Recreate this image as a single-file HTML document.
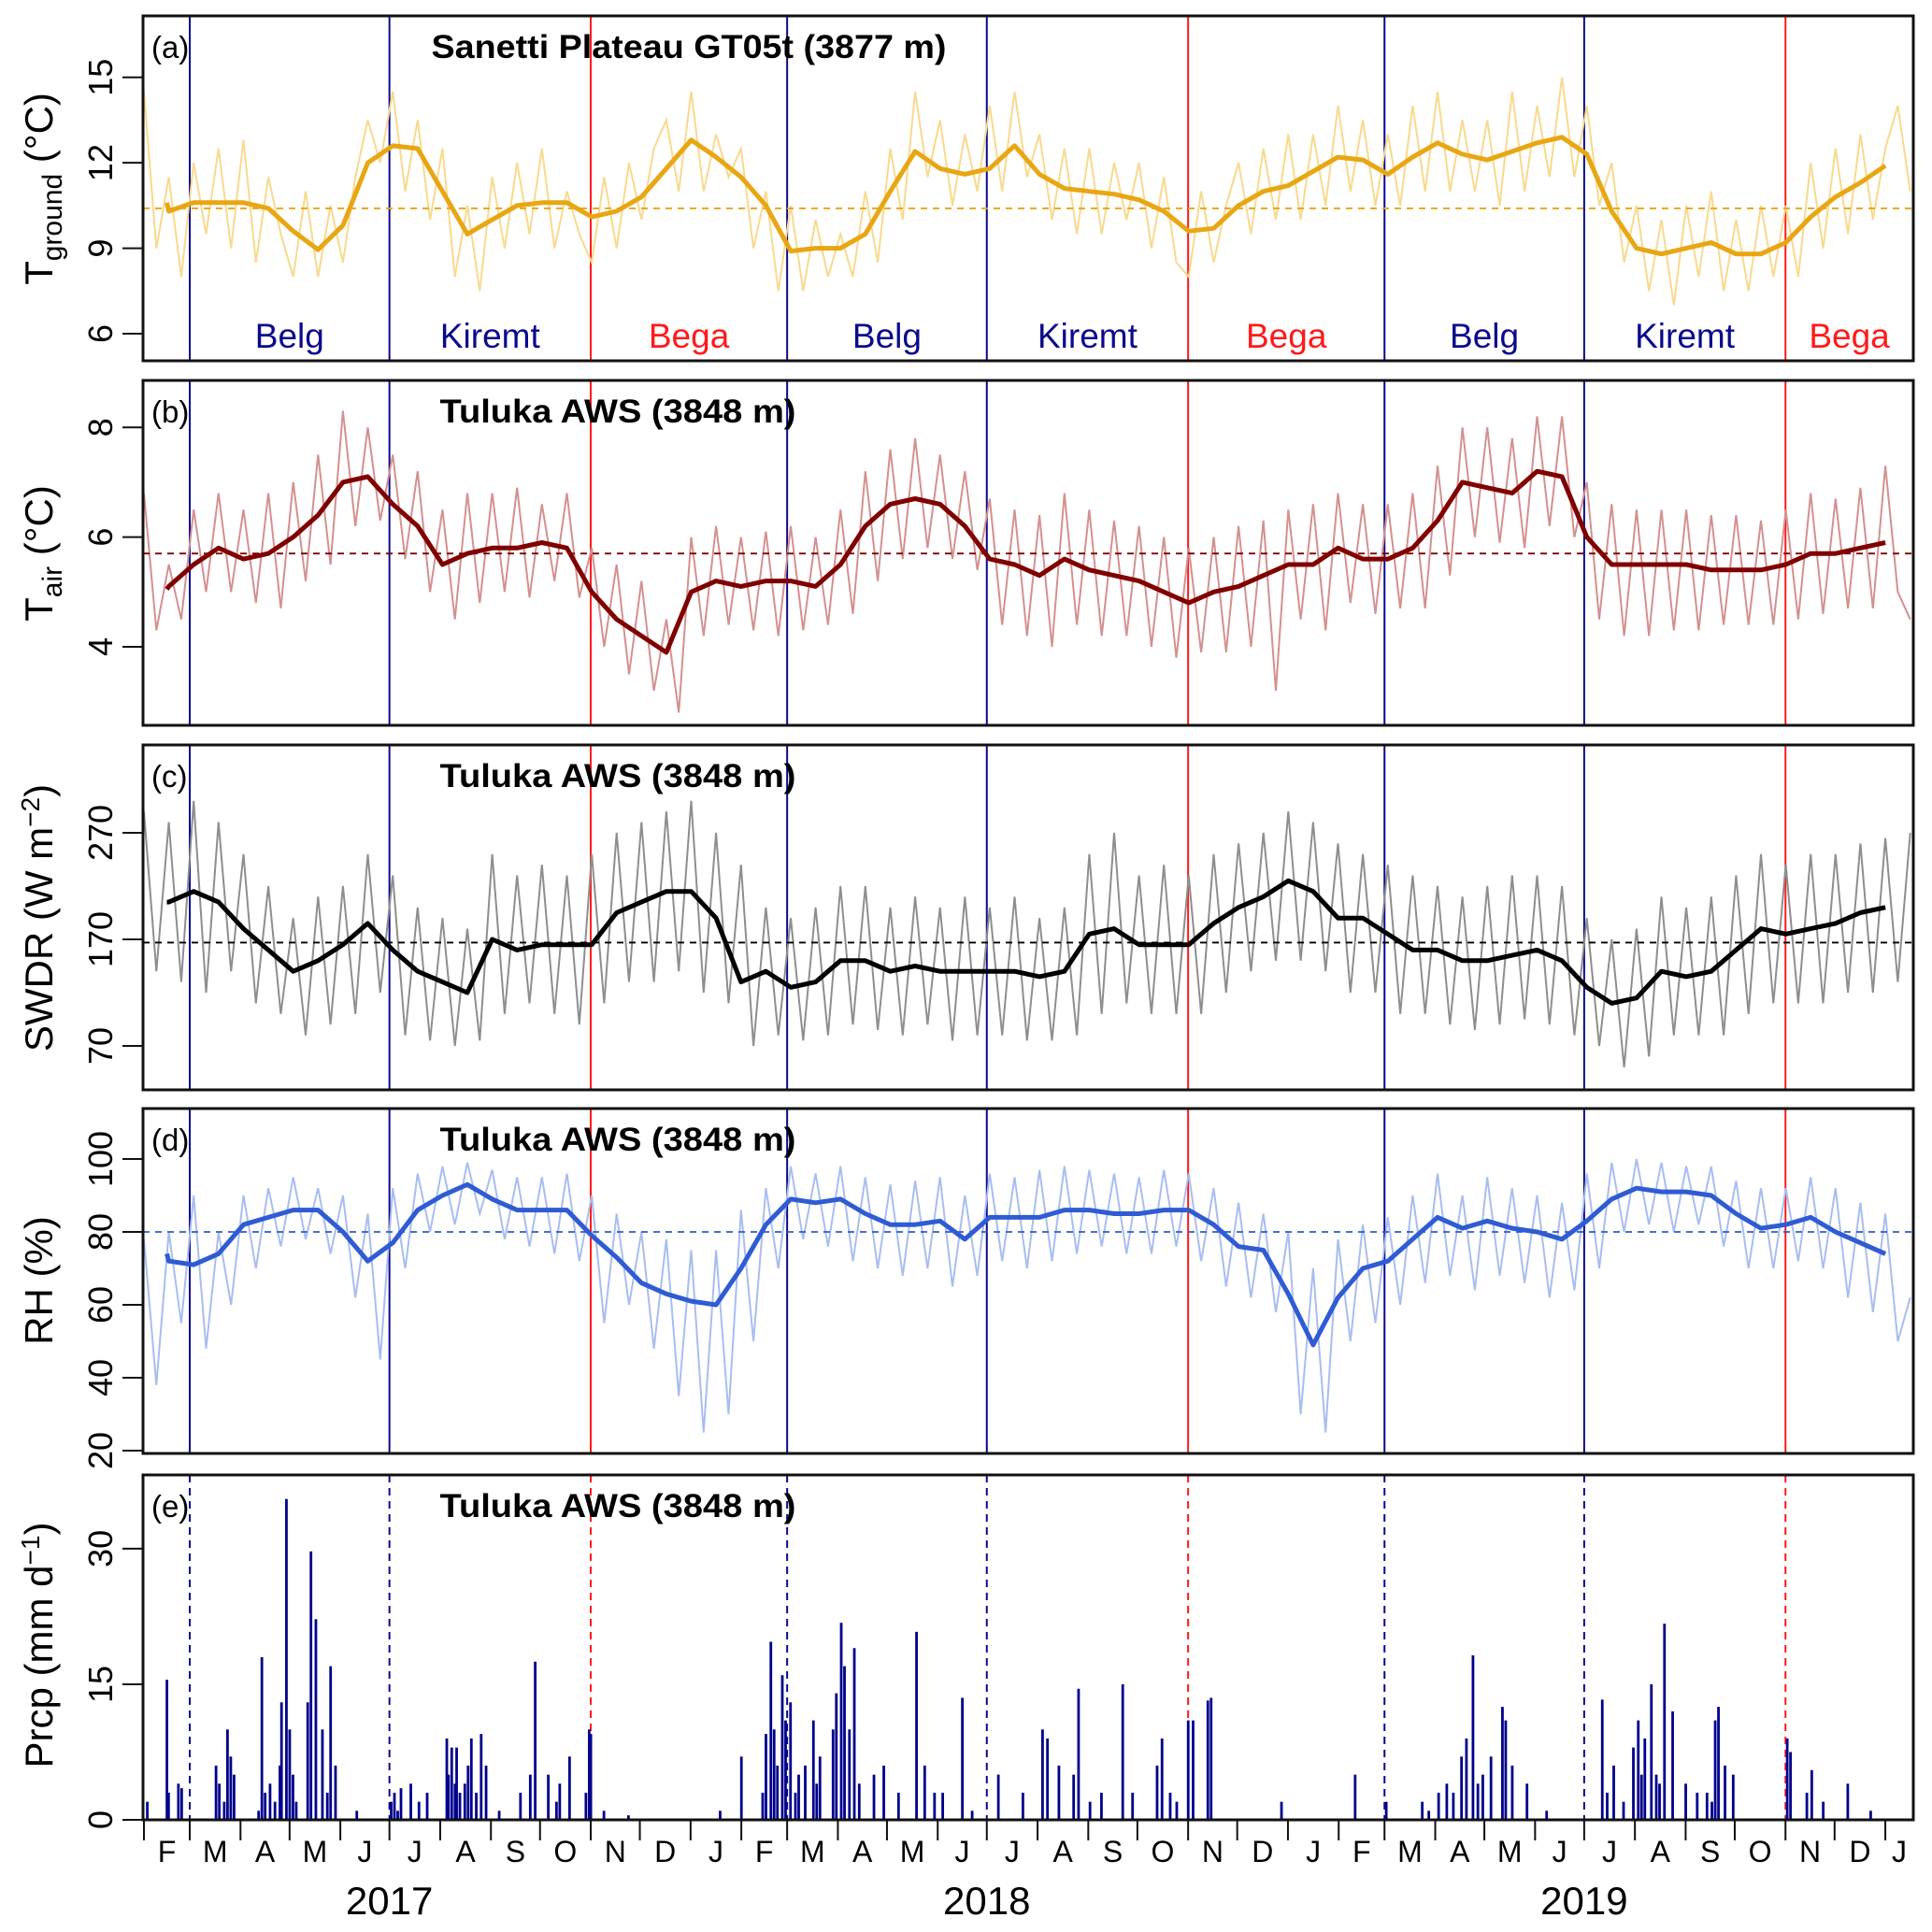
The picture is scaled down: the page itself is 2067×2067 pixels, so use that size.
<!DOCTYPE html>
<html><head><meta charset="utf-8"><style>
html,body{margin:0;padding:0;background:#fff}
svg{display:block;font-family:"Liberation Sans",Arial,sans-serif}
</style></head><body>
<svg id="chart" width="2067" height="2067" viewBox="0 0 2067 2067" xmlns="http://www.w3.org/2000/svg"></svg>
<script>
// ---------- DATA ----------
// smoothed series: semi-monthly samples from 1 Feb 2017 (step 15.2 days)
const tgSmooth=[10.6,10.3,10.6,10.6,10.6,10.4,9.6,8.95,9.8,12.0,12.6,12.5,11.0,9.5,10.0,10.5,10.6,10.6,10.1,10.3,10.8,11.8,12.8,12.2,11.5,10.5,8.9,9.0,9.0,9.5,11.0,12.4,11.8,11.6,11.8,12.6,11.6,11.1,11.0,10.9,10.7,10.3,9.6,9.7,10.5,11.0,11.2,11.7,12.2,12.1,11.6,12.2,12.7,12.3,12.1,12.4,12.7,12.9,12.3,10.3,9.0,8.8,9.0,9.2,8.8,8.8,9.2,10.1,10.8,11.3,11.9];
const taSmooth=[5.05,5.1,5.5,5.8,5.6,5.7,6.0,6.4,7.0,7.1,6.6,6.2,5.5,5.7,5.8,5.8,5.9,5.8,5.0,4.5,4.2,3.9,5.0,5.2,5.1,5.2,5.2,5.1,5.5,6.2,6.6,6.7,6.6,6.2,5.6,5.5,5.3,5.6,5.4,5.3,5.2,5.0,4.8,5.0,5.1,5.3,5.5,5.5,5.8,5.6,5.6,5.8,6.3,7.0,6.9,6.8,7.2,7.1,6.0,5.5,5.5,5.5,5.5,5.4,5.4,5.4,5.5,5.7,5.7,5.8,5.9];
const swSmooth=[205,205,215,205,180,160,140,150,165,185,160,140,130,120,170,160,165,165,165,195,205,215,215,190,130,140,125,130,150,150,140,145,140,140,140,140,135,140,175,180,165,165,165,185,200,210,225,215,190,190,175,160,160,150,150,155,160,150,125,110,115,140,135,140,160,180,175,180,185,195,200];
const rhSmooth=[74,72,71,74,82,84,86,86,80,72,77,86,90,93,89,86,86,86,79,73,66,63,61,60,70,82,89,88,89,85,82,82,83,78,84,84,84,86,86,85,85,86,86,82,76,75,63,49,62,70,72,78,84,81,83,81,80,78,83,89,92,91,91,90,85,81,82,84,80,77,74];
// raw series: samples every 7.6 days from 1 Feb 2017
const tgRaw=[14.5,9.0,11.5,8.0,12.0,9.5,12.5,9.0,12.8,8.5,11.5,9.5,8.0,11.0,8.0,10.5,8.5,11.5,13.5,12.0,14.5,11.0,13.5,10.0,12.5,8.0,10.5,7.5,11.5,9.0,12.0,9.5,12.5,9.0,11.0,9.5,8.5,11.5,9.0,12.0,10.0,12.5,13.5,11.0,14.5,11.0,13.0,11.5,12.5,9.0,11.0,7.5,10.5,7.5,10.0,8.0,9.5,8.0,11.0,8.5,12.5,10.0,14.5,11.5,13.5,10.5,13.0,11.0,14.0,11.0,14.5,11.5,13.0,10.0,12.5,9.5,12.5,9.5,12.0,10.0,12.0,9.0,11.5,8.5,8.0,11.0,8.5,10.5,12.0,9.5,12.5,10.0,13.0,10.0,13.0,10.5,14.0,11.0,13.5,10.5,13.0,10.5,14.0,11.0,14.5,11.0,13.5,11.0,13.5,10.5,14.5,11.0,14.0,11.5,15.0,11.5,14.0,10.5,12.0,8.5,10.5,7.5,10.0,7.0,10.5,8.0,11.0,7.5,10.0,7.5,10.5,8.0,10.5,8.0,12.0,9.0,12.5,9.5,13.0,10.0,12.5,14.0,11.0];
const taRaw=[6.8,4.3,5.5,4.5,6.5,5.0,6.8,5.0,6.5,4.8,6.8,4.7,7.0,5.2,7.5,5.5,8.3,6.2,8.0,6.3,7.5,5.6,7.2,5.0,6.5,4.5,6.8,4.8,6.8,5.0,6.9,4.9,6.6,5.2,6.8,4.9,5.8,4.0,5.5,3.5,5.2,3.2,4.5,2.8,6.0,4.2,6.2,4.4,6.0,4.3,6.1,4.2,6.2,4.3,6.0,4.4,6.5,4.6,7.2,5.2,7.6,5.6,7.8,5.8,7.5,5.6,7.2,5.4,6.7,4.4,6.5,4.2,6.4,4.0,6.8,4.4,6.5,4.2,6.3,4.2,6.2,4.0,6.0,3.8,5.8,3.9,6.0,3.9,6.2,4.0,6.3,3.2,6.5,4.5,6.6,4.3,6.8,4.8,6.6,4.6,6.6,4.7,6.8,4.7,7.3,5.3,8.0,6.0,8.0,5.9,7.8,5.8,8.2,6.2,8.2,6.0,7.0,4.5,6.6,4.2,6.5,4.2,6.5,4.3,6.5,4.3,6.4,4.4,6.4,4.4,6.3,4.4,6.5,4.5,6.8,4.6,6.7,4.7,6.9,4.7,7.3,5.0,4.5];
const swRaw=[290,140,280,130,300,120,280,140,250,110,220,100,190,80,210,90,220,100,250,120,230,80,200,75,190,70,180,75,250,100,230,110,240,100,230,90,250,110,270,130,280,130,290,140,300,120,270,110,240,70,200,80,190,75,200,80,220,90,220,85,200,80,210,90,200,75,210,80,200,80,210,75,190,75,200,80,250,100,270,110,230,100,240,100,230,100,250,120,260,140,270,150,290,150,280,140,260,120,250,120,240,100,230,100,220,90,210,85,220,90,230,95,230,90,220,80,190,70,170,50,180,60,210,80,200,80,210,80,230,100,250,110,240,110,250,110,250,120,260,120,265,130,270];
const rhRaw=[78,38,80,55,90,48,80,60,90,70,92,76,95,78,92,74,90,62,85,45,92,70,96,80,98,82,99,85,97,78,95,76,95,74,96,72,90,55,85,60,80,48,78,35,75,25,75,30,86,50,92,70,98,78,96,76,98,72,95,70,93,68,94,70,95,65,90,68,96,72,95,70,97,72,98,74,97,76,96,74,95,74,97,76,96,72,92,65,88,62,85,58,80,30,70,25,78,50,82,55,84,60,90,66,96,68,90,64,95,68,92,66,90,62,88,64,96,70,99,80,100,82,99,80,98,82,98,76,94,70,92,70,92,72,95,70,92,62,88,58,85,50,62];
// precipitation: day index (from 1 Feb 2017) and mm/day
const prDay=[2,14,15,21,23,44,46,49,51,53,55,70,72,74,77,80,83,84,87,89,91,93,100,102,105,109,112,114,117,130,151,153,155,157,163,168,173,185,186,188,190,191,193,196,198,200,203,206,209,217,230,236,239,247,252,254,260,270,272,273,281,296,352,365,378,380,383,385,387,390,392,395,398,400,404,409,411,413,421,423,426,428,431,434,437,446,452,461,472,477,483,488,500,506,522,537,549,552,559,568,571,578,585,598,604,619,622,627,631,638,641,650,652,695,740,759,781,785,791,796,800,805,808,812,815,818,823,830,832,836,845,857,891,894,898,904,910,913,915,917,921,924,926,929,934,942,949,955,958,960,962,966,971,1004,1006,1016,1019,1026,1041,1055];
const prVal=[2,15.5,3,4,3.5,6,4,2,10,7,5,1,18,3,4,2,6,13,35.5,10,5,2,13,29.7,22.2,10,3,17,6,1,2,3,1,3.5,4,2,3,9,5,8,4,8,3,4,6,9,3,9.5,6,1,3,5,17.5,5,2,4,7,3,10,9.5,1,0.5,1,7,3,9.5,19.7,10,6,16,11,13,3,5,6,11,4,7,10,14,21.8,17,10,19,4,5,6,3,20.8,6,3,3,13.5,1,5,3,10,9,6,5,14.5,2,3,15,3,6,9,3,2,11,11,13.2,13.5,2,5,2,2,1,3,4,3,7,9,18.2,4,5,7,12.5,11,6,4,1,13.3,3,6,2,8,11,5,9,15,5,4,21.7,12,4,3,3,2,11,12.5,6,5,9,7.5,3,5.5,2,4,1];
const monthLetters=["F","M","A","M","J","J","A","S","O","N","D","J","F","M","A","M","J","J","A","S","O","N","D","J","F","M","A","M","J","J","A","S","O","N","D","J"];
const years=["2017","2018","2019"];
const seasonNames=["Belg","Kiremt","Bega","Belg","Kiremt","Bega","Belg","Kiremt","Bega"];
const seasonStartDay=[28,150,273,393,515,638,758,880,1003];
const seasonEndDay=1081;

// ---------- LAYOUT ----------
const svg=document.getElementById('chart');
const NS='http://www.w3.org/2000/svg';
const X0=153,X1=2047;
const xDay=d=>154+d*1.751;
function el(tag,attrs,parent){const e=document.createElementNS(NS,tag);for(const k in attrs)e.setAttribute(k,attrs[k]);(parent||svg).appendChild(e);return e;}
const NAVY='#0a0a8c',RED='#ff1a1a';
const panels=[
 {id:'a',top:17,bot:386,v0:6,y0:357,ppu:30.47,ticks:[6,9,12,15],mean:10.4,raw:tgRaw,sm:tgSmooth,rc:'#f8d98e',sc:'#e8a613',title:'Sanetti Plateau GT05t (3877 m)',tx:737,tw:551},
 {id:'b',top:407,bot:776,v0:4,y0:692,ppu:58.7,ticks:[4,6,8],mean:5.7,raw:taRaw,sm:taSmooth,rc:'#d49090',sc:'#800000',title:'Tuluka AWS (3848 m)',tx:661,tw:381},
 {id:'c',top:797,bot:1166,v0:70,y0:1119,ppu:1.14,ticks:[70,170,270],mean:167,raw:swRaw,sm:swSmooth,rc:'#8e8e8e',sc:'#000000',title:'Tuluka AWS (3848 m)',tx:661,tw:381},
 {id:'d',top:1186,bot:1555,v0:20,y0:1552,ppu:3.9,ticks:[20,40,60,80,100],mean:80,raw:rhRaw,sm:rhSmooth,rc:'#a8bdf0',sc:'#2f5bd3',title:'Tuluka AWS (3848 m)',tx:661,tw:381},
 {id:'e',top:1578,bot:1947,v0:0,y0:1947,ppu:9.67,ticks:[0,15,30],title:'Tuluka AWS (3848 m)',tx:661,tw:381}
];

panels.forEach(p=>{
  const g=el('g',{});
  
  
  const yv=v=>p.y0-(v-p.v0)*p.ppu;
  const cp=el('clipPath',{id:'clip'+p.id},g);
  el('rect',{x:X0,y:p.top,width:X1-X0,height:p.bot-p.top},cp);
  const plot=el('g',{'clip-path':'url(#clip'+p.id+')'},g);
  seasonStartDay.forEach((d,i)=>{
    const ln=el('line',{x1:xDay(d),x2:xDay(d),y1:p.top,y2:p.bot,stroke:seasonNames[i]==='Bega'?RED:NAVY,'stroke-width':2,'stroke-dasharray':p.id==='e'?'8,6':'none'},plot);
    
    
  });
  if(p.raw){
    const rp=p.raw.map((v,i)=>(i?'L':'M')+xDay(i*7.6).toFixed(1)+','+yv(v).toFixed(1)).join('');
    const r=el('path',{d:rp,fill:'none',stroke:p.rc,'stroke-width':2},plot);
    
    
    const m=el('line',{x1:X0,x2:X1,y1:yv(p.mean),y2:yv(p.mean),stroke:p.sc,'stroke-width':1.8,'stroke-dasharray':'7,6'},plot);
    
    
    const sp=p.sm.map((v,i)=>(i?'L':'M')+xDay(i*15.2+(i===0?14:0)).toFixed(1)+','+yv(v).toFixed(1)).join('');
    const s=el('path',{d:sp,fill:'none',stroke:p.sc,'stroke-width':5,'stroke-linejoin':'round'},plot);
    
    
  } else {
    prDay.forEach((d,i)=>{
      const h=prVal[i]*p.ppu;
      const b=el('rect',{x:xDay(d)-1.3,y:p.y0-h,width:2.8,height:h,fill:'#00008b'},plot);
      
      
    });
  }
  const fr=el('rect',{x:X0,y:p.top,width:X1-X0,height:p.bot-p.top,fill:'none',stroke:'#111','stroke-width':3},g);
  
  
  p.ticks.forEach(t=>{
    const y=yv(t);
    el('line',{x1:X0-22,x2:X0,y1:y,y2:y,stroke:'#111','stroke-width':2},g);
    const tx=el('text',{x:0,y:0,transform:`translate(120,${y}) rotate(-90)`,'text-anchor':'middle','font-size':36,fill:'#000'},g);
    tx.textContent=t;
    
    
  });
  const pl=el('text',{x:162,y:p.top+45,'font-size':33,fill:'#000'},g);
  pl.textContent='('+p.id+')';
  
  
  const tt=el('text',{x:p.tx-p.tw/2,y:p.top+45,'font-size':35,'font-weight':'bold',textLength:p.tw,lengthAdjust:'spacingAndGlyphs',fill:'#000'},g);
  tt.textContent=p.title;
  
  
});

function yTitle(cy,html,name){
  const t=el('text',{transform:`translate(56,${cy}) rotate(-90)`,'text-anchor':'middle','font-size':42,fill:'#000'});
  t.innerHTML=html;
  
  
}
yTitle(202,'T<tspan font-size="30" dy="10">ground</tspan><tspan dy="-10"> (°C)</tspan>','y-axis-title-tground');
yTitle(592,'T<tspan font-size="30" dy="10">air</tspan><tspan dy="-10"> (°C)</tspan>','y-axis-title-tair');
yTitle(982,'SWDR (W m<tspan font-size="28" dy="-14">−2</tspan><tspan dy="14">)</tspan>','y-axis-title-swdr');
yTitle(1370,'RH (%)','y-axis-title-rh');
yTitle(1760,'Prcp (mm d<tspan font-size="28" dy="-14">−1</tspan><tspan dy="14">)</tspan>','y-axis-title-prcp');

seasonNames.forEach((n,i)=>{
  const a=seasonStartDay[i],b=i<8?seasonStartDay[i+1]:seasonEndDay;
  const t=el('text',{x:xDay((a+b)/2),y:372,'text-anchor':'middle','font-size':37,fill:n==='Bega'?RED:NAVY});
  t.textContent=n;
  
  
});

const start=new Date(Date.UTC(2017,1,1));
for(let m=0;m<=36;m++){
  const dt=new Date(Date.UTC(2017,1+m,1));
  const d=(dt-start)/86400000;
  el('line',{x1:xDay(d),x2:xDay(d),y1:1947,y2:1969,stroke:'#111','stroke-width':2});
  if(m<monthLetters.length){
    const dn=new Date(Date.UTC(2017,2+m,1));
    const d2=Math.min((dn-start)/86400000,1081);
    const t=el('text',{x:xDay((d+d2)/2),y:1992,'text-anchor':'middle','font-size':32,fill:'#000'});
    t.textContent=monthLetters[m];
    
    
  }
}
years.forEach((y,i)=>{
  const d=(new Date(Date.UTC(2017+i,6,1))-start)/86400000;
  const t=el('text',{x:xDay(d),y:2048,'text-anchor':'middle','font-size':42,fill:'#000'});
  t.textContent=y;
  
  
});
</script>
</body></html>
